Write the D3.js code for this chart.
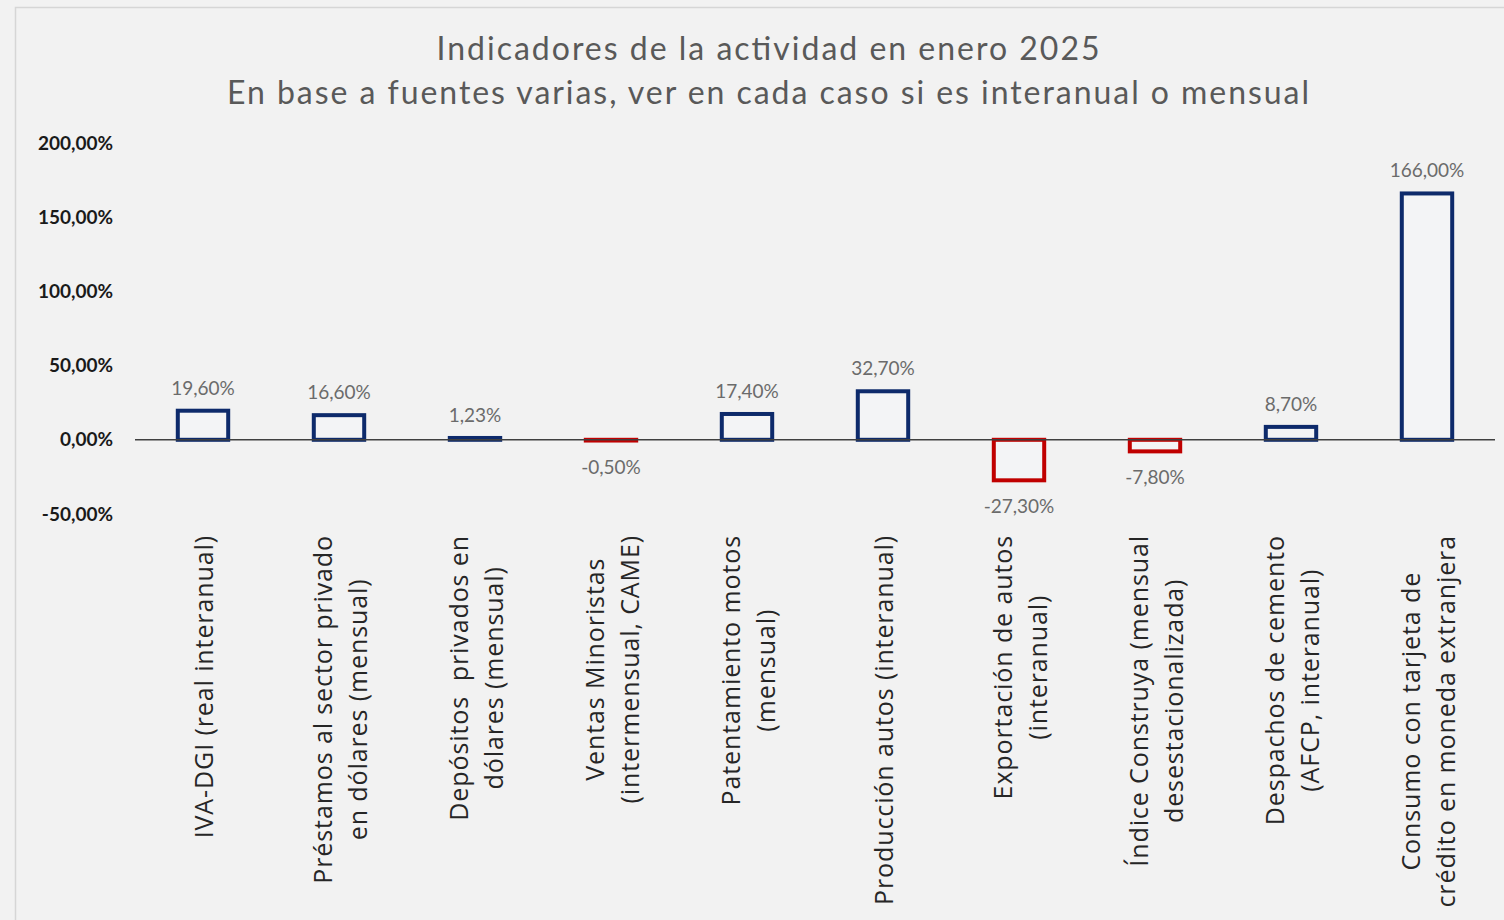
<!DOCTYPE html>
<html>
<head>
<meta charset="utf-8">
<script src="https://cdn.jsdelivr.net/npm/d3@7"></script>
<style>
  html, body { margin: 0; padding: 0; background: #f2f2f2; }
  svg { display: block; }
</style>
</head>
<body>
<svg id="chart" width="1504" height="920"></svg>
<script>
const categories = [
  "IVA-DGI (real interanual)",
  "Préstamos al sector privado en dólares (mensual)",
  "Depósitos privados en dólares (mensual)",
  "Ventas Minoristas (intermensual, CAME)",
  "Patentamiento motos (mensual)",
  "Producción autos (interanual)",
  "Exportación de autos (interanual)",
  "Índice Construya (mensual desestacionalizada)",
  "Despachos de cemento (AFCP, interanual)",
  "Consumo con tarjeta de crédito en moneda extranjera"
];
const categoryLines = [
  ["IVA-DGI (real interanual)"],
  ["Préstamos al sector privado", "en dólares (mensual)"],
  ["Depósitos  privados en", "dólares (mensual)"],
  ["Ventas Minoristas", "(intermensual, CAME)"],
  ["Patentamiento motos", "(mensual)"],
  ["Producción autos (interanual)"],
  ["Exportación de autos", "(interanual)"],
  ["Índice Construya (mensual", "desestacionalizada)"],
  ["Despachos de cemento", "(AFCP, interanual)"],
  ["Consumo con tarjeta de", "crédito en moneda extranjera"]
];
const values = [19.6, 16.6, 1.23, -0.5, 17.4, 32.7, -27.3, -7.8, 8.7, 166.0];
const yTicks = [-50, 0, 50, 100, 150, 200];
const titleLines = [
  "Indicadores de la actividad en enero 2025",
  "En base a fuentes varias, ver en cada caso si es interanual o mensual"
];

const svg = d3.select("#chart");
const FONT = "Lato, 'Noto Sans', sans-serif";
const FONT2 = "'Open Sans', 'Noto Sans', sans-serif";

// panel
svg.append("rect").attr("x", 15.5).attr("y", 7.5).attr("width", 1500).attr("height", 920)
  .attr("fill", "#f2f2f2").attr("stroke", "#d6d6d6").attr("stroke-width", 1.5);

// title
const titleY = [60, 104];
const titleW = [663, 1082];
titleLines.forEach((t, i) => {
  svg.append("text")
    .attr("x", 768).attr("y", titleY[i])
    .attr("text-anchor", "middle")
    .attr("font-family", FONT)
    .attr("font-size", 32)
    .attr("fill", "#595959")
    .attr("textLength", titleW[i])
    .attr("lengthAdjust", "spacing")
    .text(t);
});

const x = d3.scaleBand().domain(categories).range([135, 1495]).paddingInner(0.6).paddingOuter(0.3);
const y = d3.scaleLinear().domain([-50, 200]).range([514, 143]);

// y axis labels
const fmtPct = v => v.toFixed(2).replace(".", ",") + "%";
const yAxis = d3.axisLeft(y).tickValues(yTicks).tickFormat(fmtPct).tickSize(0).tickPadding(0);
const ga = svg.append("g").attr("transform", "translate(113,0)").call(yAxis);
ga.select(".domain").remove();
ga.selectAll("text")
  .attr("font-family", FONT)
  .attr("font-size", 19)
  .attr("font-weight", "bold")
  .attr("fill", "#1a1a1a");

// bars
const data = categories.map((c, i) => ({ c, v: values[i], lines: categoryLines[i] }));
const colorOf = v => v >= 0 ? "#0d2a6b" : "#c00000";
svg.append("g").selectAll("rect").data(data).join("rect")
  .attr("x", d => x(d.c) + 2)
  .attr("width", x.bandwidth() - 4)
  .attr("y", d => Math.min(y(d.v), y(0)))
  .attr("height", d => Math.abs(y(d.v) - y(0)))
  .attr("fill", "#f3f4f6")
  .attr("stroke", d => colorOf(d.v))
  .attr("stroke-width", 4);

// zero line
svg.append("line")
  .attr("x1", 135).attr("x2", 1495)
  .attr("y1", y(0)).attr("y2", y(0))
  .attr("stroke", "#404040").attr("stroke-width", 1.5);

// value labels
svg.append("g").selectAll("text").data(data).join("text")
  .attr("x", d => x(d.c) + x.bandwidth() / 2)
  .attr("y", d => d.v >= 0 ? y(d.v) - 16 : y(d.v) + 33)
  .attr("text-anchor", "middle")
  .attr("font-family", FONT)
  .attr("font-size", 19)
  .attr("fill", "#6b6b6b")
  .text(d => fmtPct(d.v));

// category labels (rotated)
const topY = 535;
const lineH = 35;
const catG = svg.append("g");
data.forEach(d => {
  const cx = x(d.c) + x.bandwidth() / 2;
  const n = d.lines.length;
  const g = catG.append("g");
  const texts = d.lines.map((ln, j) => g.append("text")
    .attr("font-family", FONT2)
    .attr("font-size", 25)
    .attr("letter-spacing", "0.9px")
    .attr("fill", "#262626")
    .attr("text-anchor", "middle")
    .attr("dominant-baseline", "central")
    .attr("xml:space", "preserve")
    .text(ln));
  const maxLen = d3.max(texts, t => t.node().getComputedTextLength());
  const cy = topY + maxLen / 2;
  texts.forEach((t, j) => {
    const lx = cx + (j - (n - 1) / 2) * lineH;
    t.attr("transform", `translate(${lx},${cy}) rotate(-90)`);
  });
});
</script>
</body>
</html>
